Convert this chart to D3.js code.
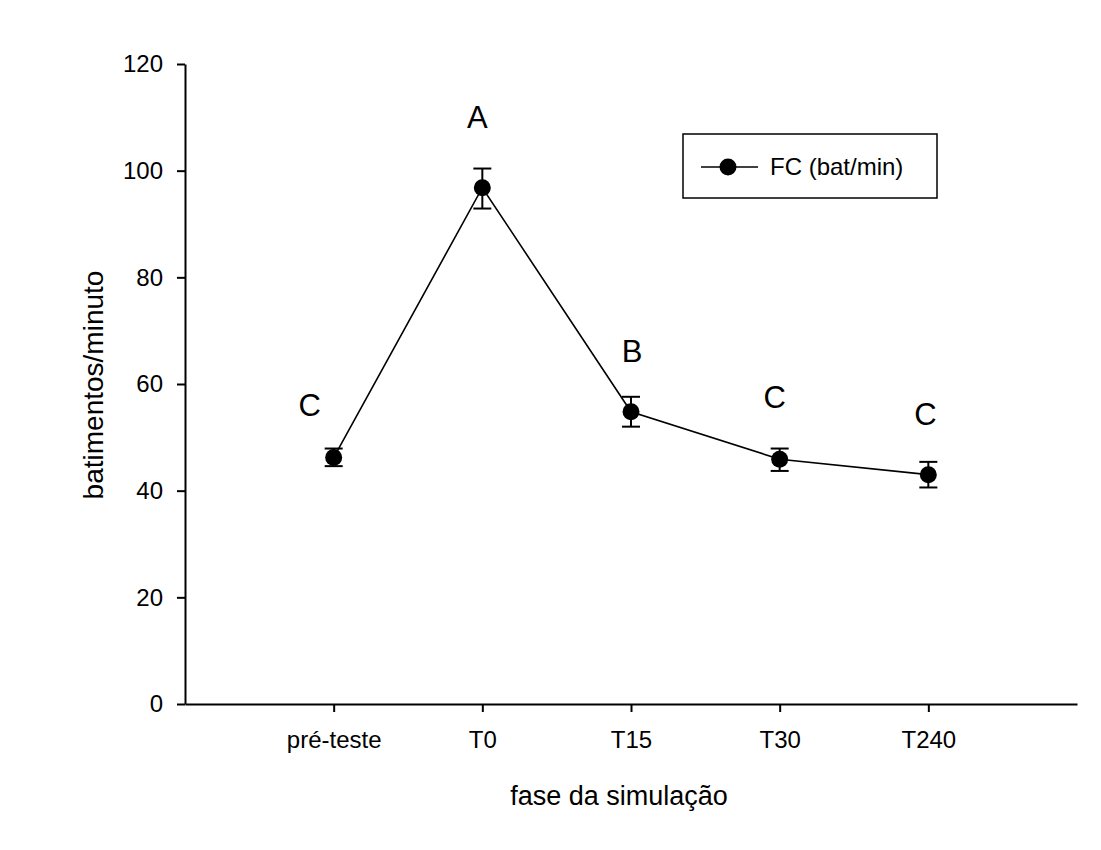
<!DOCTYPE html>
<html>
<head>
<meta charset="utf-8">
<script src="https://cdn.jsdelivr.net/npm/d3@7"></script>
<style>
  body { margin: 0; background: #fff; }
  svg { font-family: "Liberation Sans", Arial, sans-serif; }
</style>
</head>
<body>
<svg id="chart" width="1101" height="850"></svg>
<script>
// data
const phases = ["pré-teste", "T0", "T15", "T30", "T240"];
const fcMean = [46.2, 96.8, 54.8, 45.9, 43.0];
const fcLow = [44.6, 92.9, 52.0, 43.7, 40.6];
const fcHigh = [47.9, 100.4, 57.6, 47.9, 45.4];
const groupLetters = ["C", "A", "B", "C", "C"];
const letterValues = [54.0, 108.0, 64.1, 55.5, 52.3];
const yTicks = [0, 20, 40, 60, 80, 100, 120];

const width = 1101, height = 850;
const margin = { top: 64, right: 24, bottom: 146, left: 185 };

const svg = d3.select("#chart");

const xScale = d3.scaleLinear()
  .domain([0, 6])
  .range([margin.left, width - margin.right]);
const yScale = d3.scaleLinear()
  .domain([0, 120])
  .range([height - margin.bottom, margin.top]);

const points = phases.map((p, i) => ({
  phase: p, pos: i + 1, mean: fcMean[i], low: fcLow[i], high: fcHigh[i],
  letter: groupLetters[i], letterY: letterValues[i]
}));

//axes
const xAxis = g => {
  g.attr("transform", `translate(0, ${yScale(0)})`)
    .call(d3.axisBottom(xScale)
      .tickValues(points.map(d => d.pos))
      .tickFormat((d, i) => phases[i])
      .tickSize(8)
      .tickPadding(19)
      .tickSizeOuter(0));
  g.select(".domain").attr("stroke-width", 2);
  g.selectAll(".tick line").attr("stroke-width", 2);
  g.selectAll("text").style("font-size", "24px").attr("fill", "#000");
  return g;
};
const yAxis = g => {
  g.attr("transform", `translate(${margin.left}, 0)`)
    .call(d3.axisLeft(yScale)
      .tickValues(yTicks)
      .tickSize(8)
      .tickPadding(14)
      .tickSizeOuter(0));
  g.select(".domain").attr("stroke-width", 2);
  g.selectAll(".tick line").attr("stroke-width", 2);
  g.selectAll("text").style("font-size", "24px").attr("fill", "#000");
  return g;
};

svg.append("g").call(xAxis);
svg.append("g").call(yAxis);

// axis titles
svg.append("text")
  .attr("x", 619)
  .attr("y", 805)
  .attr("text-anchor", "middle")
  .style("font-size", "27px")
  .text("fase da simulação");

svg.append("text")
  .attr("transform", "translate(103, 385) rotate(-90)")
  .attr("text-anchor", "middle")
  .style("font-size", "28px")
  .text("batimentos/minuto");

// line
const valueLine = d3.line()
  .x(d => xScale(d.pos))
  .y(d => yScale(d.mean));

svg.append("path")
  .datum(points)
  .attr("d", valueLine)
  .attr("fill", "none")
  .attr("stroke", "#000")
  .attr("stroke-width", 1.6);

// error bars
const capW = 9;
const errs = svg.append("g").attr("stroke", "#000").attr("stroke-width", 2);
errs.selectAll("line.err")
  .data(points)
  .join("line")
  .attr("class", "err")
  .attr("x1", d => xScale(d.pos))
  .attr("x2", d => xScale(d.pos))
  .attr("y1", d => yScale(d.low))
  .attr("y2", d => yScale(d.high));
errs.selectAll("line.capTop")
  .data(points)
  .join("line")
  .attr("class", "capTop")
  .attr("x1", d => xScale(d.pos) - capW)
  .attr("x2", d => xScale(d.pos) + capW)
  .attr("y1", d => yScale(d.high))
  .attr("y2", d => yScale(d.high));
errs.selectAll("line.capBot")
  .data(points)
  .join("line")
  .attr("class", "capBot")
  .attr("x1", d => xScale(d.pos) - capW)
  .attr("x2", d => xScale(d.pos) + capW)
  .attr("y1", d => yScale(d.low))
  .attr("y2", d => yScale(d.low));

// markers
svg.append("g")
  .selectAll("circle")
  .data(points)
  .join("circle")
  .attr("cx", d => xScale(d.pos))
  .attr("cy", d => yScale(d.mean))
  .attr("r", 8.5)
  .attr("fill", "#000");

// significance letters
const letterOffset = [-24, -5, 1, -5, -3];
svg.append("g")
  .selectAll("text")
  .data(points)
  .join("text")
  .attr("x", (d, i) => xScale(d.pos) + letterOffset[i])
  .attr("y", d => yScale(d.letterY))
  .attr("text-anchor", "middle")
  .style("font-size", "31px")
  .text(d => d.letter);

// legend
const legend = svg.append("g").attr("transform", "translate(683, 134)");
legend.append("rect")
  .attr("width", 254)
  .attr("height", 64)
  .attr("fill", "#fff")
  .attr("stroke", "#000")
  .attr("stroke-width", 1.5);
legend.append("line")
  .attr("x1", 18).attr("x2", 75)
  .attr("y1", 33).attr("y2", 33)
  .attr("stroke", "#000").attr("stroke-width", 1.6);
legend.append("circle")
  .attr("cx", 45).attr("cy", 33).attr("r", 8.5).attr("fill", "#000");
legend.append("text")
  .attr("x", 87).attr("y", 41)
  .style("font-size", "24px")
  .text("FC (bat/min)");
</script>
</body>
</html>
